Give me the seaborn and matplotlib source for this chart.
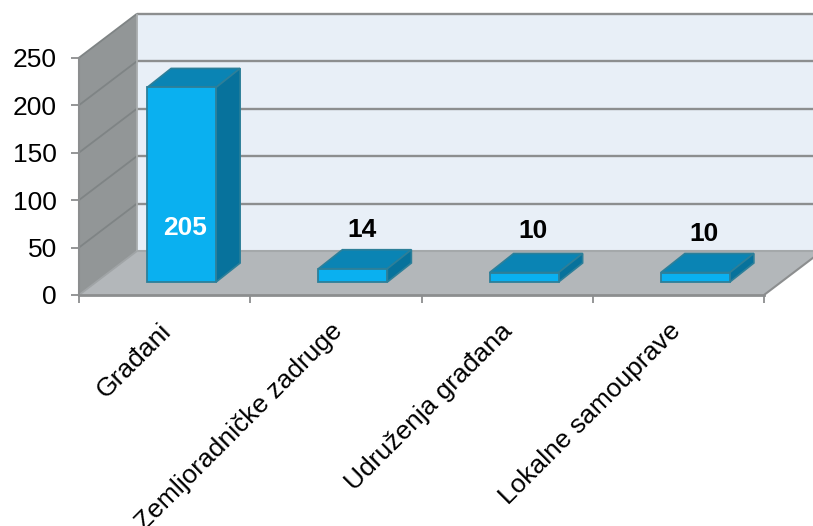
import matplotlib
matplotlib.use("Agg")
import matplotlib.pyplot as plt
import pandas as pd
import seaborn as sns
from matplotlib.patches import Polygon
from matplotlib.transforms import Affine2D, IdentityTransform

categories = ["Građani", "Zemljoradničke zadruge", "Udruženja građana", "Lokalne samouprave"]
values = [205, 14, 10, 10]
y_ticks = [0, 50, 100, 150, 200, 250]

# pseudo 3D depth, in pixels
WALL_DX, WALL_DY = 58, 44
BAR_DX, BAR_DY = 17, 13
TOP_DX, TOP_DY = 24, 19

GREY = "#8c8e8f"
EDGE = "#2d7f99"

sns.set_style("white")
plt.rcParams["font.family"] = ["Liberation Sans", "DejaVu Sans"]

W, H = 813, 526
fig = plt.figure(figsize=(W / 100, H / 100), dpi=100)
ax = fig.add_axes([79 / W, (H - 295) / H, 685 / W, 237.3 / H])
ax.patch.set_visible(False)

df = pd.DataFrame({"category": categories, "value": values})
sns.barplot(data=df, x="category", y="value", color="#0ab0f0", width=0.403,
            saturation=1, edgecolor=EDGE, linewidth=1.3, ax=ax)
ax.set_xlim(-0.5, 3.5)
ax.set_ylim(0, 250)
ax.autoscale(False)
fig.canvas.draw()


def px(x, y):
    return ax.transData.transform((x, y))


def poly(points, color, edge="none", lw=0, z=0.5):
    ax.add_patch(Polygon(points, closed=True, facecolor=color, edgecolor=edge, linewidth=lw,
                         transform=IdentityTransform(), clip_on=False, zorder=z, joinstyle="miter"))


def line(p, q, color=GREY, lw=1.7, z=0.7):
    ax.plot([p[0], q[0]], [p[1], q[1]], color=color, lw=lw, transform=IdentityTransform(),
            clip_on=False, zorder=z, solid_capstyle="butt")


wall = (WALL_DX, WALL_DY)
fl, fr = px(-0.5, 0), px(3.5, 0)
tl = px(-0.5, 250)
bl, br, btl, btr = fl + wall, fr + wall, tl + wall, px(3.5, 250) + wall

poly([bl, br, btr, btl], "#e8eff7")
poly([fl, bl, btl, tl], "#929697")
poly([fl, fr, br, bl], "#b3b7ba")

for v in y_ticks:
    p = px(-0.5, v)
    if v > 0:
        line(p + wall, px(3.5, v) + wall)
    line(p, p + wall, color="#7f8485" if v else "#a0a4a6", lw=1.3)
line(btl, bl, color="#a9adae", lw=1.3)
line(bl, br, color="#a4a8aa", lw=1.5)
line(fr, br, lw=1.5)

shift = Affine2D().translate(BAR_DX, BAR_DY)
label_offsets = [None, 39, 42, 39]
for i, (bar, v) in enumerate(zip(ax.containers[0], values)):
    bar.set_transform(ax.transData + shift)
    bar.set_clip_on(False)
    bar.set_zorder(3)
    x0, x1 = bar.get_x(), bar.get_x() + bar.get_width()
    lo = px(x0, 0) + (BAR_DX, BAR_DY)
    hi = px(x1, v) + (BAR_DX, BAR_DY)
    d = (TOP_DX, TOP_DY)
    a, b = (lo[0], hi[1]), (hi[0], hi[1])
    c, e = (hi[0], lo[1]), (hi[0] + d[0], lo[1] + d[1])
    poly([a, b, (b[0] + d[0], b[1] + d[1]), (a[0] + d[0], a[1] + d[1])], "#0a84b4", EDGE, 1.2, 2)
    poly([b, c, e, (b[0] + d[0], b[1] + d[1])], "#07729c", EDGE, 1.2, 2)
    cx = (lo[0] + hi[0]) / 2
    if i == 0:
        tx, ty, col = cx + 3, lo[1] + 54, "white"
    else:
        tx, ty, col = cx + 9, hi[1] + label_offsets[i], "black"
    ax.text(tx, ty, str(v), transform=IdentityTransform(), ha="center", va="center",
            fontsize=19, fontweight="bold", color=col, zorder=5, clip_on=False)

for s in ["top", "right"]:
    ax.spines[s].set_visible(False)
ax.spines["left"].set_color(GREY)
ax.spines["left"].set_linewidth(1.5)
ax.spines["left"].set_zorder(1)
ax.spines["bottom"].set_color(GREY)
ax.spines["bottom"].set_linewidth(2)

ax.set_yticks(y_ticks)
ax.set_xticks([-0.5, 0.5, 1.5, 2.5, 3.5], minor=True)
ax.set_xticks(range(len(categories)))
ax.set_xticklabels(categories, rotation=45, ha="right", rotation_mode="anchor", fontsize=19, color="black")
ax.tick_params(axis="x", which="major", length=0, pad=17)
ax.tick_params(axis="x", which="minor", length=5.5, width=1.3, color=GREY, bottom=True)
ax.tick_params(axis="y", left=True, length=5.5, width=1.3, color=GREY, labelsize=19, labelcolor="black", pad=10.5)
for lab, dx in zip(ax.get_xticklabels(), [-6, -6, -7, -10]):
    lab.set_transform(lab.get_transform() + Affine2D().translate(dx, 0))
ax.set_xlabel("")
ax.set_ylabel("")

fig.savefig("out.png", dpi=100)
